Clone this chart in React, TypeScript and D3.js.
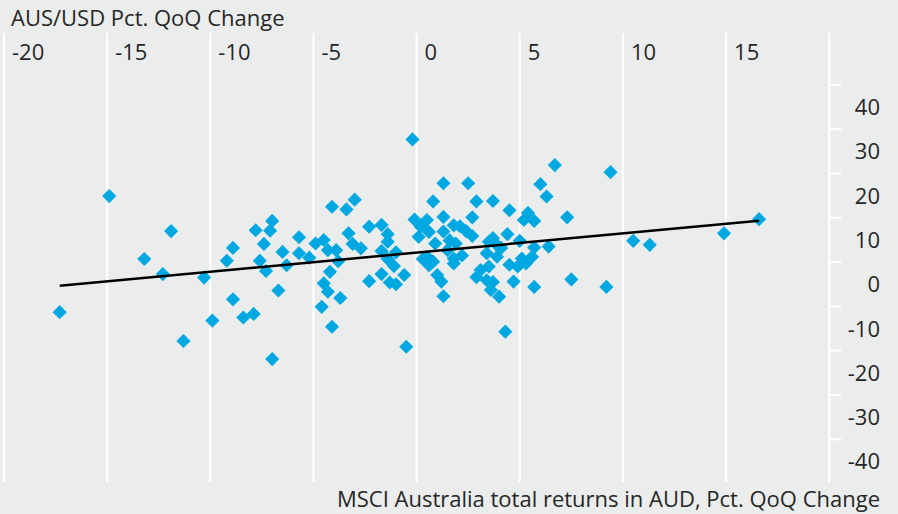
import React, { useEffect } from 'react';
import * as d3 from 'd3';

// MSCI Australia total returns (x) vs AUD/USD (y), pct QoQ change
const returnsX = [
  -17.3, -14.9, -13.2, -12.3, -11.9, -11.3, -10.3, -9.9, -9.2, -8.9,
  -8.9, -8.4, -7.9, -7.8, -7.4, -7.6, -7.3, -7.1, -7.0, -7.0,
  -6.7, -6.5, -6.3, -5.7, -5.7, -5.2, -4.9, -4.5, -4.3, -3.9,
  -3.8, -4.2, -4.5, -4.3, -4.6, -3.7, -4.1, -4.1, -3.4, -3.0,
  -3.3, -3.1, -2.7, -2.3, -2.3, -1.7, -1.4, -1.4, -1.7, -1.0,
  -1.4, -1.1, -1.7, -1.3, -1.0, -0.6, -0.5, -0.2, -0.1, 0.2,
  0.1, 0.5, 0.3, 0.5, 0.6, 0.8, 0.9, 1.3, 2.5, 0.8,
  2.9, 3.7, 1.3, 2.7, 1.3, 1.8, 2.1, 2.4, 2.7, 1.6,
  1.9, 1.5, 1.8, 2.2, 1.8, 1.0, 1.2, 1.3, 3.4, 3.5,
  3.7, 3.9, 4.1, 3.9, 3.1, 2.9, 3.4, 3.7, 3.6, 4.0,
  3.5, 4.3, 4.5, 5.2, 5.4, 5.7, 4.4, 5.0, 5.7, 6.4,
  4.5, 4.9, 5.1, 5.6, 5.3, 4.7, 5.7, 6.0, 6.3, 6.7,
  7.3, 7.5, 9.2, 9.4, 10.5, 11.3, 14.9, 16.6, 0.6,
];
const fxY = [
  -6.3, 19.9, 5.7, 2.3, 12.0, -12.8, 1.5, -8.2, 5.3, -3.4,
  8.2, -7.5, -6.7, 12.2, 9.1, 5.3, 3.0, 12.1, 14.3, -16.9,
  -1.4, 7.3, 4.3, 10.6, 7.0, 6.0, 9.2, 10.0, 7.7, 7.7,
  5.2, 2.8, 0.2, -1.7, -5.1, -3.1, -9.6, 17.5, 16.9, 19.1,
  11.5, 9.1, 8.1, 0.7, 13.0, 13.4, 11.3, 9.6, 7.5, 7.2,
  5.7, 4.1, 2.3, 0.4, 0.0, 2.1, -14.1, 32.7, 14.6, 13.0,
  10.7, 14.5, 5.7, 6.2, 4.3, 5.1, 9.2, 22.8, 22.8, 18.7,
  18.7, 18.8, 15.2, 15.1, 11.9, 13.3, 13.1, 12.0, 10.9, 9.9,
  9.2, 7.7, 5.8, 6.5, 4.7, 2.1, 0.6, -2.7, 7.0, 9.6,
  10.4, 8.8, 8.2, 6.2, 3.2, 1.6, 0.9, 0.5, -1.3, -2.8,
  4.0, -10.7, 16.7, 14.5, 16.1, 14.3, 11.3, 9.8, 8.3, 8.5,
  4.4, 4.0, 5.8, 6.2, 4.7, 0.6, -0.6, 22.6, 19.8, 26.9,
  15.1, 1.1, -0.6, 25.3, 9.8, 8.9, 11.5, 14.7, 11.8,
];

const xTicks = [-20, -15, -10, -5, 0, 5, 10, 15, 20];
const xTickLabels = ['-20', '-15', '-10', '-5', '0', '5', '10', '15'];
const yTickLabels = [40, 30, 20, 10, 0, -10, -20, -30, -40];
const yTickMarks = [45, 35, 25, 15, 5, -5, -15, -25, -35];

// fitted trend line
const trendSlope = 0.432;
const trendIntercept = 7.15;

const W = 898;
const H = 514;
const FONT = "'Open Sans', 'DejaVu Sans', sans-serif";
const TEXT = '#262626';

export default function App() {
  useEffect(() => {
    document.body.style.margin = '0';
  }, []);

  const x = d3.scaleLinear().domain([-20, 20]).range([4, 829.2]);
  const y = d3.scaleLinear().domain([-45, 45]).range([483.6, 84.9]);
  const gridTop = 33;
  const gridBottom = 482;

  const points = returnsX.map((v, i) => ({ x: v, y: fxY[i] }));
  const xMin = d3.min(returnsX) as number;
  const xMax = d3.max(returnsX) as number;
  const trend = d3.line<number>()
    .x(d => x(d))
    .y(d => y(trendIntercept + trendSlope * d))([xMin, xMax]);

  const diamond = d3.symbol().type(d3.symbolSquare).size(100)();

  return (
    <svg width={W} height={H} style={{ display: 'block' }} fontFamily={FONT}>
      <rect width={W} height={H} fill="#ebeded" />
      {xTicks.map(t => (
        <line key={t} x1={x(t)} x2={x(t)} y1={gridTop} y2={gridBottom} stroke="#fff" strokeWidth={2} />
      ))}
      {yTickMarks.map(t => (
        <line key={t} x1={x(20)} x2={x(20) + 12} y1={y(t)} y2={y(t)} stroke="#fff" strokeWidth={2} />
      ))}
      {xTickLabels.map((l, i) => (
        <text key={l} x={x(xTicks[i]) + 8} y={60} fontSize={22} fill={TEXT}>{l}</text>
      ))}
      {yTickLabels.map(t => (
        <text key={t} x={880} y={y(t) + 8} fontSize={22} fill={TEXT} textAnchor="end">{t}</text>
      ))}
      <text x={11} y={26} fontSize={22} fill={TEXT}>AUS/USD Pct. QoQ Change</text>
      <text x={880} y={507} fontSize={22} fill={TEXT} textAnchor="end">
        MSCI Australia total returns in AUD, Pct. QoQ Change
      </text>
      {points.map((p, i) => (
        <path key={i} d={diamond} transform={`translate(${x(p.x)},${y(p.y)}) rotate(45)`} fill="#00a8e1" />
      ))}
      <path d={trend ?? ''} fill="none" stroke="#000" strokeWidth={2.5} />
    </svg>
  );
}
